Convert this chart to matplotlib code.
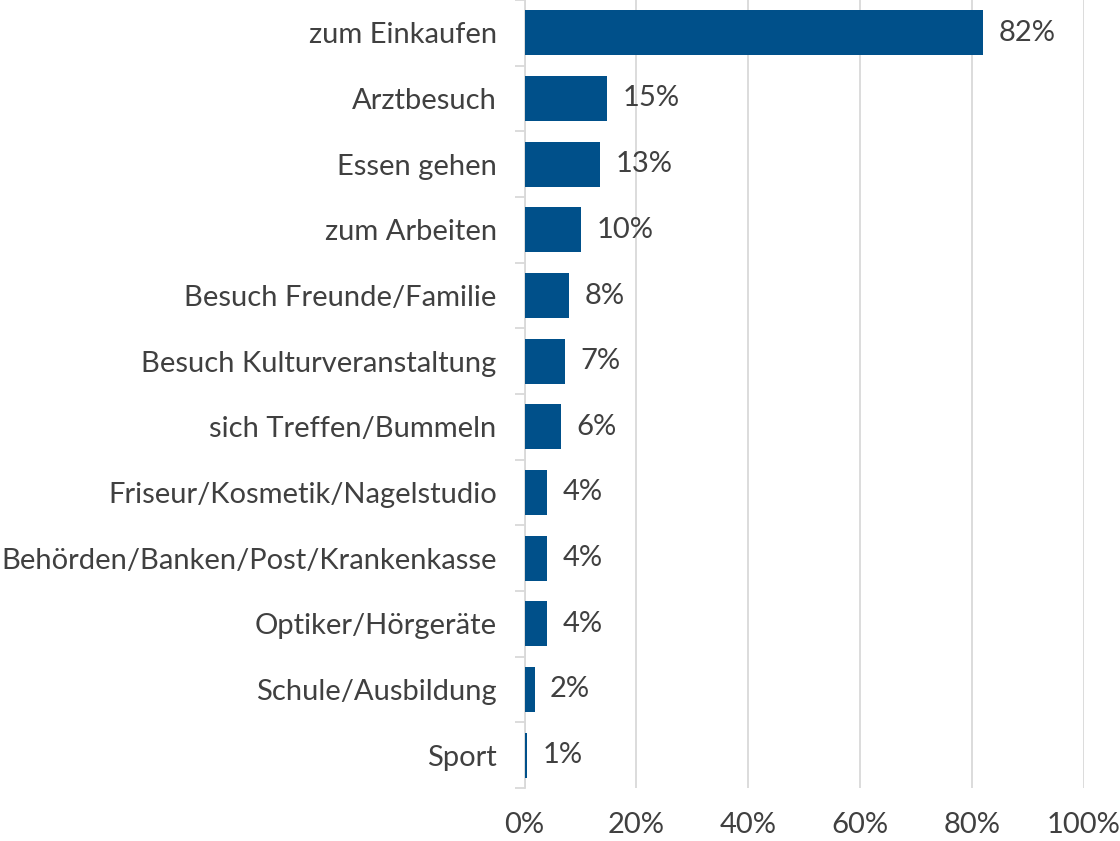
import matplotlib.pyplot as plt
from matplotlib.ticker import FuncFormatter, FixedLocator

categories = [
    "zum Einkaufen", "Arztbesuch", "Essen gehen", "zum Arbeiten",
    "Besuch Freunde/Familie", "Besuch Kulturveranstaltung",
    "sich Treffen/Bummeln", "Friseur/Kosmetik/Nagelstudio",
    "Behörden/Banken/Post/Krankenkasse", "Optiker/Hörgeräte",
    "Schule/Ausbildung", "Sport",
]
values = [82.1, 14.8, 13.5, 10.1, 8.0, 7.3, 6.5, 4.1, 4.1, 4.1, 1.8, 0.5]
value_labels = ["82%", "15%", "13%", "10%", "8%", "7%", "6%", "4%", "4%", "4%", "2%", "1%"]

plt.rcParams['font.family'] = ['Lato', 'DejaVu Sans']
text_color = "#404040"
bar_color = "#00508a"
grid_color = "#d9d9d9"

W, H = 1120, 841
fig = plt.figure(figsize=(W / 100, H / 100), dpi=100)
ax = fig.add_axes([524.5 / W, (H - 788) / H, 559 / W, 788 / H])

y = list(range(len(categories)))
ax.barh(y, values, height=0.69, color=bar_color, zorder=3)

# value labels right of each bar
for yi, v, lab in zip(y, values, value_labels):
    ax.annotate(lab, xy=(v, yi), xytext=(11, 0), textcoords="offset points",
                va="center", ha="left", fontsize=21, color=text_color)

ax.set_xlim(0, 100)
ax.set_ylim(len(categories) - 0.5, -0.5)
ax.set_xticks([0, 20, 40, 60, 80, 100])
ax.xaxis.set_major_formatter(FuncFormatter(lambda v, p: f"{v:.0f}%"))
ax.grid(axis="x", color=grid_color, linewidth=1.3, zorder=0)

ax.set_yticks(y)
ax.set_yticklabels(categories)
ax.yaxis.set_minor_locator(FixedLocator([i + 0.5 for i in range(-1, len(categories))]))
ax.tick_params(axis="y", which="major", length=0, pad=20, labelsize=21, labelcolor=text_color)
ax.tick_params(axis="y", which="minor", length=7, color=grid_color, width=1.3)
ax.tick_params(axis="x", length=0, pad=17, labelsize=21, labelcolor=text_color)

for s in ["top", "right", "bottom"]:
    ax.spines[s].set_visible(False)
ax.spines["left"].set_color(grid_color)
ax.spines["left"].set_linewidth(1.3)

fig.savefig("out.png", dpi=100)
